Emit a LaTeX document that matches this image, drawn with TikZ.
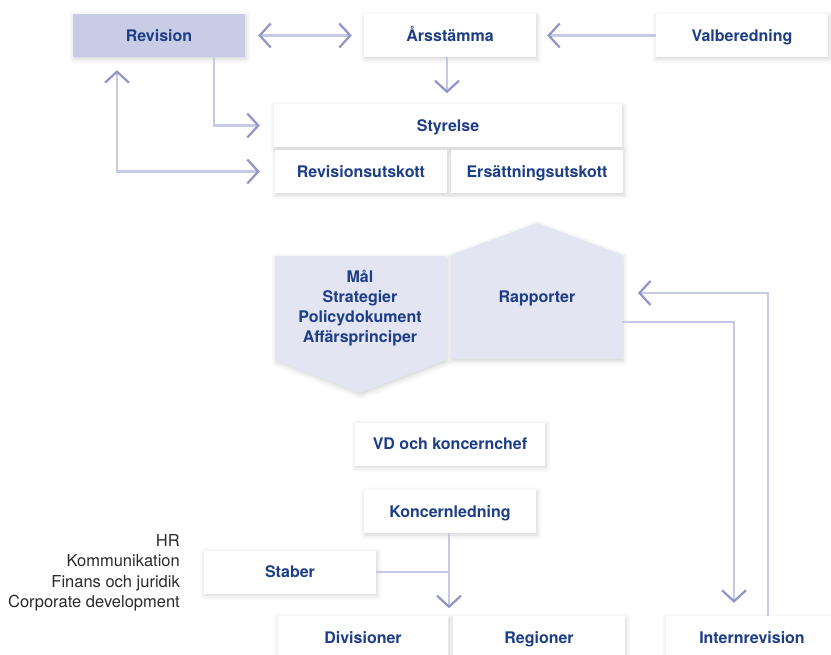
\documentclass[tikz,border=0pt]{standalone}
\usepackage{fontspec}
\setmainfont{TeX Gyre Heros}
\usetikzlibrary{arrows.meta,shadows.blur}
\definecolor{txt}{HTML}{1D3E87}
\definecolor{revc}{HTML}{C9CCE6}
\definecolor{penc}{HTML}{E3E5F3}
\definecolor{linec}{HTML}{C6C9E4}
\definecolor{arrc}{HTML}{9094C7}
\definecolor{grtxt}{HTML}{2A2A2A}
\tikzset{
  chev/.tip={Straight Barb[length=11pt,width=24pt,line width=2.2pt,color=arrc]},
  softshadow/.style={blur shadow={shadow xshift=1pt,shadow yshift=-2pt,shadow blur radius=5pt,shadow opacity=18}},
  box/.style={fill=white,minimum width=172pt,minimum height=43pt,inner sep=0pt,
    text height=11.5pt,text depth=0pt,
    font=\bfseries\fontsize{16}{19}\selectfont,text=txt,softshadow},
  conn/.style={draw=linec,line width=2.6pt},
  lbl/.style={font=\bfseries\fontsize{16}{20.2}\selectfont,text=txt,align=center,inner sep=0pt},
}
\begin{document}
\begin{tikzpicture}[x=1pt,y=-1pt]
\useasboundingbox (0,0) rectangle (831,655);
\clip (0,0) rectangle (831,655);
% top boxes
\node[box,fill=revc] (rev) at (159,35.5) {Revision};
\node[box] (ars) at (450,35.5) {Årsstämma};
\node[box] (val) at (742,35.5) {Valberedning};
\node[box,minimum width=348pt] (sty) at (448,125.5) {Styrelse};
\node[box] (ru) at (361,171.5) {Revisionsutskott};
\node[box] (eu) at (537,171.5) {Ersättningsutskott};
% pentagons
\path[fill=penc,softshadow] (275,256) -- (446,256) -- (446,360) -- (360,393) -- (275,360) -- cycle;
\path[fill=penc,softshadow] (451,255) -- (537,223) -- (622,255) -- (622,359) -- (451,359) -- cycle;
\node[lbl] (mal) at (360,308) {Mål\\Strategier\\Policydokument\\Affärsprinciper};
\node[lbl] (rap) at (537,298) {Rapporter};
\coordinate (rapOut) at (622,322);
\coordinate (rapIn) at (638,293);
% lower boxes
\node[box,minimum width=190pt] (vd) at (450,444) {VD och koncernchef};
\node[box] (kl) at (450,511.5) {Koncernledning};
\node[box] (stab) at (290,572) {Staber};
\node[box,minimum width=170pt] (div) at (363,637.5) {Divisioner};
\node[box] (reg) at (539,637.5) {Regioner};
\node[box] (ir) at (752,637.5) {Internrevision};
\node[anchor=east,align=right,inner sep=0pt,text=grtxt,font=\fontsize{16.5}{20.5}\selectfont] (staff) at (180,573)
  {HR\\Kommunikation\\Finans och juridik\\Corporate development};
% connectors
\draw[conn,chev-chev] ([xshift=13pt]rev.east) -- ([xshift=-12pt]ars.west);
\draw[conn,-chev] (val.west) -- ([xshift=11pt]ars.east);
\draw[conn,-chev] ([xshift=-3pt]ars.south) -- ++(0,36);
\draw[conn,-chev] ([xshift=55pt]rev.south) |- ([xshift=-14pt]sty.west);
\draw[conn,chev-chev] ([xshift=-42pt,yshift=-13pt]rev.south) |- ([xshift=-15pt]ru.west);
\draw[conn,-chev] ([xshift=-1pt]kl.south) -- ++(0,75);
\draw[conn] (stab.east) -- ++(73,0);
\draw[conn,-chev] (rapOut) -| ([xshift=-18pt,yshift=13pt]ir.north);
\draw[conn,-chev] ([xshift=16pt]ir.north) |- (rapIn);
\end{tikzpicture}
\end{document}
